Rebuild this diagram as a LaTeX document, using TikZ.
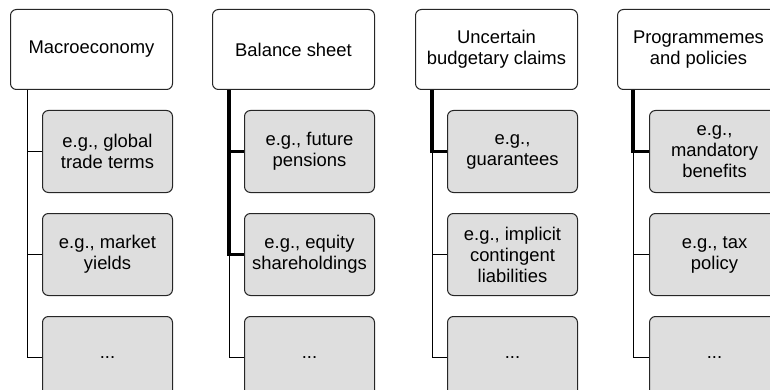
\documentclass[tikz,border=0pt]{standalone}
\usepackage{fontspec}
\setmainfont{Liberation Sans}
\usetikzlibrary{positioning}
\begin{document}
\begin{tikzpicture}[
      node distance=20pt,
      topbox/.style={draw=black!85, line width=1pt, rounded corners=6pt, align=center, inner sep=2pt,
        minimum width=162pt, minimum height=80pt, font=\fontsize{18.4}{21}\selectfont},
      subbox/.style={topbox, fill=black!13, minimum width=130pt, minimum height=82pt},
      link/.style={line width=1pt},
      mainlink/.style={line width=3.6pt}]
    \useasboundingbox (0,0) rectangle (770pt,-390pt);
    \node[topbox, anchor=north west] (macro) at (10pt,-9pt) {Macroeconomy};
    \node[topbox, anchor=north west] (bal) at (212pt,-9pt) {Balance sheet};
    \node[topbox, anchor=north west] (unc) at (415pt,-9pt) {Uncertain\\budgetary claims};
    \node[topbox, anchor=north west] (prog) at (617pt,-9pt) {Programmemes\\and policies};
    \node[subbox, below=of macro.south east, anchor=north east] (macroa) {e.g., global\\trade terms};
    \node[subbox, below=of macroa] (macrob) {e.g., market\\yields};
    \node[subbox, below=of macrob] (macroc) {...};
    \node[subbox, below=of bal.south east, anchor=north east] (bala) {e.g., future\\pensions};
    \node[subbox, below=of bala] (balb) {e.g., equity\\shareholdings};
    \node[subbox, below=of balb] (balc) {...};
    \node[subbox, below=of unc.south east, anchor=north east] (unca) {e.g.,\\guarantees};
    \node[subbox, below=of unca] (uncb) {e.g., implicit\\contingent\\liabilities};
    \node[subbox, below=of uncb] (uncc) {...};
    \node[subbox, below=of prog.south east, anchor=north east] (proga) {e.g.,\\mandatory\\benefits};
    \node[subbox, below=of proga] (progb) {e.g., tax\\policy};
    \node[subbox, below=of progb] (progc) {...};
    \coordinate (macrot) at ([xshift=17pt]macro.south west);
    \coordinate (balt) at ([xshift=17pt]bal.south west);
    \coordinate (unct) at ([xshift=17pt]unc.south west);
    \coordinate (progt) at ([xshift=16pt]prog.south west);
    \draw[link] (macrot) |- (macroa.west);
    \draw[link] (macrot) |- (macrob.west);
    \draw[link] (macrot) |- (macroc.west);
    \draw[link] (balt) |- (balc.west);
    \draw[mainlink] (balt) |- (bala.west);
    \draw[mainlink] (balt) |- (balb.west);
    \draw[link] (unct) |- (uncb.west);
    \draw[link] (unct) |- (uncc.west);
    \draw[mainlink] (unct) |- (unca.west);
    \draw[link] (progt) |- (progb.west);
    \draw[link] (progt) |- (progc.west);
    \draw[mainlink] (progt) |- (proga.west);
  \end{tikzpicture}
\end{document}
